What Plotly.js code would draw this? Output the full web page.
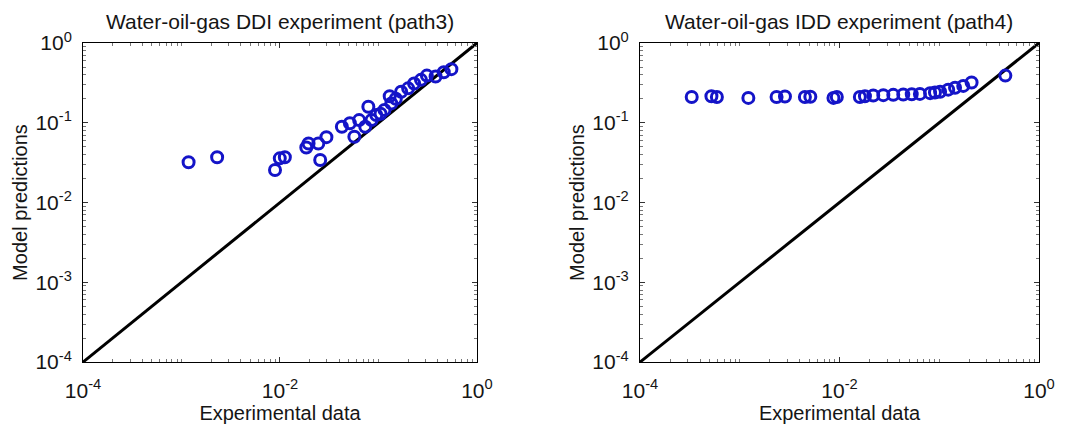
<!DOCTYPE html>
<html>
<head>
<meta charset="utf-8">
<script src="https://cdn.plot.ly/plotly-3.0.1.min.js"></script>
<style>
  html, body { margin: 0; padding: 0; background: #fff; }
  #chart { width: 1074px; height: 430px; }
</style>
</head>
<body>
<div id="chart"></div>
<script>
// Water-oil-gas DDI experiment (path3)
const ddiExperimental = [
  0.00118, 0.0023, 0.0089, 0.00995, 0.0112, 0.0185, 0.0195, 0.0245, 0.0296,
  0.0256, 0.0425, 0.0512, 0.0569, 0.0636, 0.0734, 0.0789, 0.085, 0.095,
  0.105, 0.115, 0.13, 0.135, 0.15, 0.17, 0.2, 0.23, 0.27, 0.31, 0.38,
  0.46, 0.55
];
const ddiPredicted = [
  0.032, 0.037, 0.0256, 0.0358, 0.037, 0.049, 0.055, 0.055, 0.066,
  0.0341, 0.0893, 0.0984, 0.0668, 0.108, 0.0893, 0.159, 0.108, 0.125,
  0.13, 0.145, 0.215, 0.175, 0.2, 0.245, 0.27, 0.31, 0.345, 0.39, 0.38,
  0.43, 0.47
];

// Water-oil-gas IDD experiment (path4)
const iddExperimental = [
  0.00033, 0.00052, 0.00059, 0.00122, 0.00234, 0.00284, 0.0045, 0.0051,
  0.0087, 0.0094, 0.016, 0.018, 0.0218, 0.0275, 0.0346, 0.0436, 0.053,
  0.064, 0.081, 0.0906, 0.102, 0.123, 0.144, 0.174, 0.211, 0.46
];
const iddPredicted = [
  0.21, 0.215, 0.21, 0.205, 0.21, 0.213, 0.21, 0.212,
  0.205, 0.21, 0.21, 0.215, 0.22, 0.222, 0.224, 0.226, 0.228,
  0.23, 0.235, 0.24, 0.245, 0.26, 0.275, 0.29, 0.32, 0.39
];

// Perfect-agreement reference line y = x
const diagonal = [1e-4, 1];

// Axis ticks
const xTickVals = [1e-4, 1e-2, 1];
const xTickText = ['10<sup>-4</sup>', '10<sup>-2</sup>', '10<sup>0</sup>'];
const yTickVals = [1e-4, 1e-3, 1e-2, 1e-1, 1];
const yTickText = ['10<sup>-4</sup>', '10<sup>-3</sup>', '10<sup>-2</sup>', '10<sup>-1</sup>', '10<sup>0</sup>'];

const titles = ['Water-oil-gas DDI experiment (path3)', 'Water-oil-gas IDD experiment (path4)'];
const xLabel = 'Experimental data';
const yLabel = 'Model predictions';

// minor log ticks (2..9 within each decade, plus unlabeled decades)
const minorVals = [];
for (let d = -4; d < 0; d++) {
  for (let m = 2; m <= 9; m++) minorVals.push(m * Math.pow(10, d));
}
const xMinorVals = minorVals.concat([1e-3, 1e-1]);

const font = 'Liberation Sans, Arial, sans-serif';
const textColor = '#151515';
const markerStyle = { symbol: 'circle-open', size: 11, color: 'rgb(20,20,200)', line: { width: 3, color: 'rgb(20,20,200)' } };
const lineStyle = { color: '#000', width: 3 };

const traces = [
  { x: diagonal, y: diagonal, mode: 'lines', line: lineStyle, xaxis: 'x', yaxis: 'y', hoverinfo: 'skip' },
  { x: ddiExperimental, y: ddiPredicted, mode: 'markers', marker: markerStyle, xaxis: 'x', yaxis: 'y' },
  { x: diagonal, y: diagonal, mode: 'lines', line: lineStyle, xaxis: 'x2', yaxis: 'y2', hoverinfo: 'skip' },
  { x: iddExperimental, y: iddPredicted, mode: 'markers', marker: markerStyle, xaxis: 'x2', yaxis: 'y2' }
];

function axisBase(extra) {
  return Object.assign({
    type: 'log',
    range: [-4, 0],
    showgrid: false,
    zeroline: false,
    showline: true,
    linecolor: '#000',
    linewidth: 1,
    mirror: 'ticks',
    ticks: 'inside',
    ticklen: 5,
    tickcolor: '#333',
    tickwidth: 1,
    tickmode: 'array',
    tickfont: { family: font, size: 21, color: textColor },
    automargin: false,
    fixedrange: true
  }, extra);
}

function minorTicks(vals) {
  return { tickmode: 'array', tickvals: vals, ticks: 'inside', ticklen: 3, tickcolor: '#777', showgrid: false };
}

const yDomain = [0.158, 0.9];
const axisTitleFont = { family: font, size: 20, color: textColor };
const titleFont = { family: font, size: 21, color: textColor };

const layout = {
  width: 1074,
  height: 430,
  margin: { l: 0, r: 0, t: 0, b: 0 },
  paper_bgcolor: '#fff',
  plot_bgcolor: '#fff',
  showlegend: false,
  font: { family: font, color: textColor },
  xaxis: axisBase({ domain: [0.0773, 0.4441], anchor: 'y', tickvals: xTickVals, ticktext: xTickText, ticklabelstandoff: 10,
    minor: minorTicks(xMinorVals), title: { text: xLabel, font: axisTitleFont, standoff: 4 } }),
  yaxis: axisBase({ domain: yDomain, anchor: 'x', tickvals: yTickVals, ticktext: yTickText, ticklabelstandoff: 6,
    minor: minorTicks(minorVals), title: { text: yLabel, font: axisTitleFont, standoff: 2 } }),
  xaxis2: axisBase({ domain: [0.5959, 0.9674], anchor: 'y2', tickvals: xTickVals, ticktext: xTickText, ticklabelstandoff: 10,
    minor: minorTicks(xMinorVals), title: { text: xLabel, font: axisTitleFont, standoff: 4 } }),
  yaxis2: axisBase({ domain: yDomain, anchor: 'x2', tickvals: yTickVals, ticktext: yTickText, ticklabelstandoff: 6,
    minor: minorTicks(minorVals), title: { text: yLabel, font: axisTitleFont, standoff: 2 } }),
  annotations: [
    { text: titles[0], xref: 'paper', yref: 'paper', x: (0.0773 + 0.4441) / 2, y: 1 - 22 / 430, xanchor: 'center', yanchor: 'middle', showarrow: false, font: titleFont },
    { text: titles[1], xref: 'paper', yref: 'paper', x: (0.5959 + 0.9674) / 2, y: 1 - 22 / 430, xanchor: 'center', yanchor: 'middle', showarrow: false, font: titleFont }
  ]
};

Plotly.newPlot('chart', traces, layout, { displayModeBar: false, staticPlot: true });
</script>
</body>
</html>
